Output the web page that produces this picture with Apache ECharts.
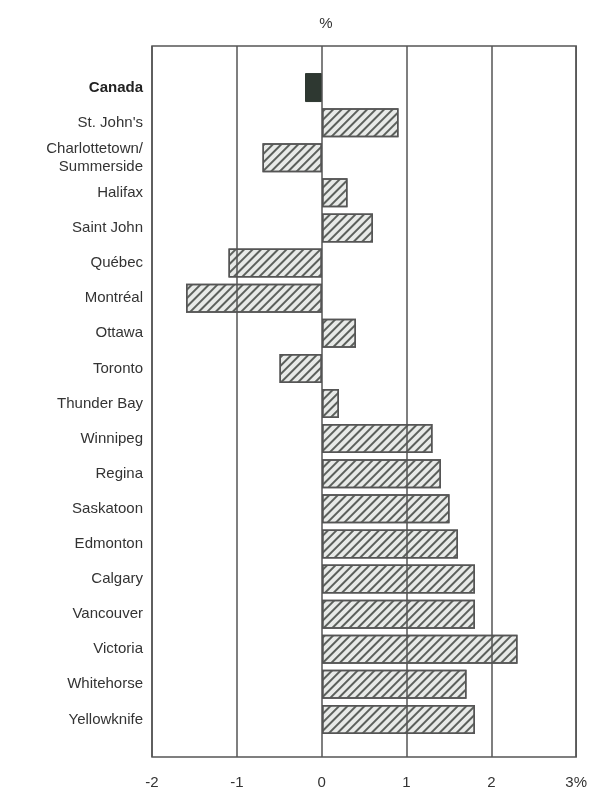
<!DOCTYPE html>
<html><head><meta charset="utf-8">
<script src="https://cdn.jsdelivr.net/npm/echarts@6/dist/echarts.min.js"></script>
<style>html,body{margin:0;padding:0;background:#fff}#c{width:590px;height:798px}</style>
</head><body><div id="c"></div>
<script>
const categories = ['Canada', "St. John's", 'Charlottetown/\nSummerside', 'Halifax', 'Saint John', 'Québec', 'Montréal', 'Ottawa', 'Toronto', 'Thunder Bay', 'Winnipeg', 'Regina', 'Saskatoon', 'Edmonton', 'Calgary', 'Vancouver', 'Victoria', 'Whitehorse', 'Yellowknife'];
const values = [-0.2, 0.9, -0.7, 0.3, 0.6, -1.1, -1.6, 0.4, -0.5, 0.2, 1.3, 1.4, 1.5, 1.6, 1.8, 1.8, 2.3, 1.7, 1.8];
const xTicks = [-2, -1, 0, 1, 2, 3];
const unitLabel = '%';

const chart = echarts.init(document.getElementById('c'), null, {renderer: 'canvas'});
const font = '"Liberation Sans", Arial, sans-serif';
const cityData = values.map((v, i) => i === 0 ? '-' : v);
const natData = values.map((v, i) => i === 0 ? v : '-');
chart.setOption({
  animation: false,
  backgroundColor: '#fff',
  title: {text: unitLabel, left: 321, top: 11, textAlign: 'center',
    textStyle: {fontFamily: font, fontSize: 15, fontWeight: 'normal', color: '#333'}},
  grid: [
    {left: 152, right: 13, top: 46, bottom: 41, show: true, borderColor: '#555', borderWidth: 1.5, backgroundColor: 'transparent'},
    {left: 152, right: 13, top: 70, bottom: 61}
  ],
  xAxis: [
    {gridIndex: 0, type: 'value', min: xTicks[0], max: xTicks[xTicks.length - 1], interval: 1, z: 5,
      axisLine: {show: false}, axisTick: {show: false},
      splitLine: {show: true, lineStyle: {color: '#555', width: 1.5}},
      axisLabel: {margin: 18, fontFamily: font, fontSize: 15, color: '#333',
        formatter: v => v === xTicks[xTicks.length - 1] ? v + unitLabel : String(v)}},
    {gridIndex: 1, type: 'value', min: xTicks[0], max: xTicks[xTicks.length - 1], show: false}
  ],
  yAxis: [
    {gridIndex: 0, type: 'value', show: false},
    {gridIndex: 1, type: 'category', inverse: true,
      data: categories.map((c, i) => i === 0 ? {value: c, textStyle: {fontWeight: 'bold', color: '#222'}} : c),
      axisLine: {show: false}, axisTick: {show: false}, splitLine: {show: false},
      axisLabel: {margin: 9, fontFamily: font, fontSize: 15, color: '#333', lineHeight: 18, align: 'right'}}
  ],
  series: [
    {type: 'bar', xAxisIndex: 1, yAxisIndex: 1, data: cityData, barWidth: 29,
      itemStyle: {color: '#e8eae8', borderColor: '#555', borderWidth: 1.5,
        decal: {symbol: 'rect', symbolSize: 1, dashArrayX: [[1, 0]], dashArrayY: [2, 4], rotation: -Math.PI / 4, color: '#5c605c'}}},
    {type: 'bar', xAxisIndex: 1, yAxisIndex: 1, data: natData, barWidth: 29, barGap: '-100%',
      itemStyle: {color: '#2e3831', borderColor: '#2e3831', borderWidth: 1}}
  ]
});
</script></body></html>
